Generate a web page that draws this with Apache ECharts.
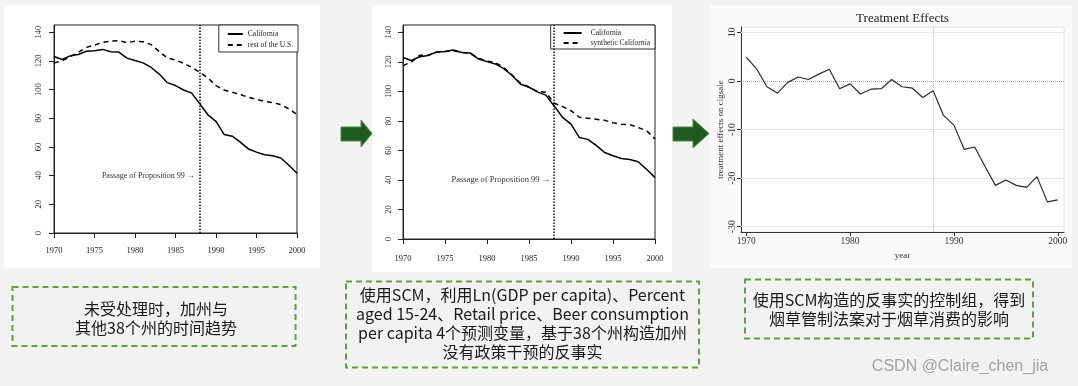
<!DOCTYPE html>
<html><head><meta charset="utf-8">
<script src="https://cdn.jsdelivr.net/npm/echarts@6/dist/echarts.min.js"></script>
<style>html,body{margin:0;padding:0;background:#f2f2f2}#c{width:1078px;height:386px}</style>
</head><body><div id="c"></div>
<script>
const years = [1970,1971,1972,1973,1974,1975,1976,1977,1978,1979,1980,1981,1982,1983,1984,1985,1986,1987,1988,1989,1990,1991,1992,1993,1994,1995,1996,1997,1998,1999,2000];
const california = [123.0,121.0,123.5,124.4,126.7,127.1,128.0,126.4,126.1,121.9,120.2,118.6,115.4,110.8,104.8,102.8,99.7,97.5,90.1,82.4,77.8,68.7,67.5,63.4,58.6,56.4,54.5,53.8,52.3,47.2,41.6];
const restOfUS = [118.5,120.1,122.9,125.9,129.4,131.0,132.9,133.8,134.0,132.7,133.6,133.4,131.3,126.4,122.0,120.6,118.3,115.5,112.0,108.1,102.7,99.7,98.1,96.5,94.6,93.2,91.8,90.9,89.5,86.5,82.6];
const syntheticCalifornia = [117.5,120.0,124.5,124.5,126.5,127.0,127.5,126.5,125.5,122.5,120.5,119.5,116.0,111.0,105.5,103.0,100.0,99.5,92.0,89.7,87.0,82.5,81.8,81.1,80.4,78.8,77.7,77.5,75.5,73.4,67.8];
const treatmentEffects = [4.9,2.5,-1.2,-2.5,-0.3,0.8,0.3,1.4,2.4,-1.6,-0.6,-2.7,-1.7,-1.6,0.3,-1.2,-1.5,-3.4,-2.0,-7.1,-9.1,-14.1,-13.6,-17.6,-21.5,-20.4,-21.5,-21.9,-19.7,-24.9,-24.5];
const salesTicks = [0,20,40,60,80,100,120,140];
const effectTicks = [-30,-20,-10,0,10];
const effectYearTicks = [1970,1980,1990,2000];
const treatmentYear = 1988;
const annotationValue = 40;
const annotationText = 'Passage of Proposition 99 \u2192';
const box1Text = '未受处理时，加州与\n其他38个州的时间趋势';
const box2Text = '使用SCM，利用Ln(GDP per capita)、Percent\naged 15-24、Retail price、Beer consumption\nper capita 4个预测变量，基于38个州构造加州\n没有政策干预的反事实';
const box3Text = '使用SCM构造的反事实的控制组，得到\n烟草管制法案对于烟草消费的影响';
const chart3Title = 'Treatment Effects';
const chart3YName = 'treatment effects on cigsale';
const chart3XName = 'year';
const watermark = 'CSDN @Claire_chen_jia';

const pairs = v => years.map((y, i) => [y, v[i]]);
const SERIF = 'Liberation Serif';
const CJK = '"Noto Sans CJK SC"';
const plain = v => String(v);

function rAxisX(idx, margin) {
  return {
    type: 'value', gridIndex: idx, min: 1970, max: 2000, interval: 5,
    axisLine: {show: true, onZero: false, lineStyle: {color: '#222', width: 1}},
    axisTick: {show: true, length: 5, lineStyle: {color: '#222'}},
    axisLabel: {color: '#222', fontFamily: SERIF, fontSize: 8.5, margin: margin, formatter: plain},
    splitLine: {show: false}
  };
}
function rAxisY(idx, margin) {
  return {
    type: 'value', gridIndex: idx, min: 0, max: 145,
    axisLine: {show: true, onZero: false, lineStyle: {color: '#222', width: 1}},
    axisTick: {show: true, length: 5, customValues: salesTicks, lineStyle: {color: '#222'}},
    axisLabel: {color: '#222', fontFamily: SERIF, fontSize: 8.5, rotate: 90, margin: margin, customValues: salesTicks, formatter: plain},
    splitLine: {show: false}
  };
}
function dividerAndNote(dist, fs) {
  return {
    markLine: {
      silent: true, symbol: ['none', 'none'], label: {show: false},
      lineStyle: {color: '#111', type: 'dotted', width: 1.5},
      data: [{xAxis: treatmentYear}]
    },
    markPoint: {
      silent: true, symbol: 'circle', symbolSize: 0,
      data: [{coord: [treatmentYear, annotationValue]}],
      label: {show: true, position: 'left', distance: dist, formatter: annotationText,
        color: '#333', fontFamily: SERIF, fontSize: fs}
    }
  };
}

const chart = echarts.init(document.getElementById('c'), null, {renderer: 'canvas'});
const option = {
  animation: false,
  backgroundColor: '#f2f2f2',
  grid: [
    {left: 54, top: 25, width: 243, height: 208, show: true, borderColor: '#222', borderWidth: 1, backgroundColor: '#fff'},
    {left: 403, top: 25, width: 252, height: 214, show: true, borderColor: '#222', borderWidth: 1, backgroundColor: '#fff'},
    {left: 741, top: 27, width: 323, height: 205, show: true, borderColor: '#e2e2e2', borderWidth: 1, backgroundColor: '#fff'}
  ],
  xAxis: [
    rAxisX(0, 13),
    rAxisX(1, 15),
    {
      type: 'value', gridIndex: 2, min: 1969.5, max: 2000.6,
      name: chart3XName, nameLocation: 'middle', nameGap: 19,
      nameTextStyle: {color: '#333', fontFamily: SERIF, fontSize: 9},
      axisLine: {show: true, onZero: false, lineStyle: {color: '#333', width: 1}},
      axisTick: {show: true, length: 4, customValues: effectYearTicks, lineStyle: {color: '#333'}},
      axisLabel: {color: '#333', fontFamily: SERIF, fontSize: 9.5, margin: 4, customValues: effectYearTicks, formatter: plain},
      splitLine: {show: false}
    }
  ],
  yAxis: [
    rAxisY(0, 11),
    rAxisY(1, 10),
    {
      type: 'value', gridIndex: 2, min: -31.1, max: 11.1,
      name: chart3YName, nameLocation: 'middle', nameGap: 16, nameRotate: 90,
      nameTextStyle: {color: '#333', fontFamily: SERIF, fontSize: 9},
      axisLine: {show: true, onZero: false, lineStyle: {color: '#333', width: 1}},
      axisTick: {show: true, length: 4, customValues: effectTicks, lineStyle: {color: '#333'}},
      axisLabel: {color: '#333', fontFamily: SERIF, fontSize: 9.5, rotate: 90, margin: 4, customValues: effectTicks, formatter: plain},
      splitLine: {show: false}
    }
  ],
  legend: [
    {
      data: ['California', 'rest of the U.S.'], orient: 'vertical', right: 780, top: 25,
      padding: [5, 5, 3, 8], itemWidth: 15, itemHeight: 8, itemGap: 3,
      itemStyle: {opacity: 0},
      borderColor: '#333', borderWidth: 1, borderRadius: 0, backgroundColor: '#fff',
      textStyle: {color: '#222', fontFamily: SERIF, fontSize: 7.5}
    },
    {
      data: ['California', 'synthetic California'], orient: 'vertical', right: 423, top: 25,
      padding: [4, 5, 2, 12], itemWidth: 18, itemHeight: 7, itemGap: 2,
      itemStyle: {opacity: 0},
      borderColor: '#333', borderWidth: 1, borderRadius: 0, backgroundColor: '#fff',
      textStyle: {color: '#222', fontFamily: SERIF, fontSize: 7.5, padding: [0, 0, 0, 4]}
    }
  ],
  series: [
    Object.assign({
      name: 'California', type: 'line', xAxisIndex: 0, yAxisIndex: 0, data: pairs(california),
      symbol: 'none', lineStyle: {color: '#000', width: 1.5}, itemStyle: {color: '#000'}
    }, dividerAndNote(5, 8)),
    {
      name: 'rest of the U.S.', type: 'line', xAxisIndex: 0, yAxisIndex: 0, data: pairs(restOfUS),
      symbol: 'none', lineStyle: {color: '#000', width: 1.5, type: [5, 4]}, itemStyle: {color: '#000'}
    },
    Object.assign({
      name: 'California', type: 'line', xAxisIndex: 1, yAxisIndex: 1, data: pairs(california),
      symbol: 'none', lineStyle: {color: '#000', width: 1.5}, itemStyle: {color: '#000'}
    }, dividerAndNote(4, 8.5)),
    {
      name: 'synthetic California', type: 'line', xAxisIndex: 1, yAxisIndex: 1, data: pairs(syntheticCalifornia),
      symbol: 'none', lineStyle: {color: '#000', width: 1.5, type: [5, 4]}, itemStyle: {color: '#000'}
    },
    {
      name: 'treatment effects', type: 'line', xAxisIndex: 2, yAxisIndex: 2, data: pairs(treatmentEffects),
      symbol: 'none', lineStyle: {color: '#2b2b2b', width: 1.2}, itemStyle: {color: '#2b2b2b'},
      markLine: {
        silent: true, z: 1, symbol: ['none', 'none'], label: {show: false},
        data: effectTicks.filter(v => v !== 0).map(v => ({yAxis: v, lineStyle: {color: '#e8e8e8', type: 'solid', width: 1}}))
          .concat([
            {yAxis: 0, lineStyle: {color: '#a8a8a8', type: 'dotted', width: 1}},
            {xAxis: treatmentYear, lineStyle: {color: '#bdbdbd', type: 'dotted', width: 1}}
          ])
      }
    }
  ],
  graphic: {elements: [
    {type: 'rect', z: -10, shape: {x: 4, y: 5, width: 316, height: 263}, style: {fill: '#ffffff'}},
    {type: 'rect', z: -10, shape: {x: 372, y: 5, width: 300, height: 267}, style: {fill: '#ffffff'}},
    {type: 'rect', z: -10, shape: {x: 710, y: 5, width: 362, height: 263}, style: {fill: '#fafafa'}},
    {type: 'polygon', z: -5, shape: {points: [[341,127],[361,127],[361,120],[372,133.5],[361,147],[361,141],[341,141]]},
      style: {fill: '#1e5b20', stroke: '#4f8c3f', lineWidth: 1}},
    {type: 'polygon', z: -5, shape: {points: [[673,127],[693,127],[693,119],[709,133.5],[693,148],[693,141],[673,141]]},
      style: {fill: '#1e5b20', stroke: '#4f8c3f', lineWidth: 1}},
    {type: 'text', x: 902.5, y: 18.5, style: {text: chart3Title, font: '13px "Liberation Serif"', fill: '#222', align: 'center', verticalAlign: 'middle'}},
    {type: 'rect', shape: {x: 12.5, y: 287, width: 283, height: 59}, style: {fill: 'none', stroke: '#5fa33a', lineWidth: 2, lineDash: [6, 4]}},
    {type: 'rect', shape: {x: 346, y: 281.5, width: 353, height: 86}, style: {fill: 'none', stroke: '#5fa33a', lineWidth: 2, lineDash: [6, 4]}},
    {type: 'rect', shape: {x: 745, y: 279.5, width: 288, height: 59}, style: {fill: 'none', stroke: '#5fa33a', lineWidth: 2, lineDash: [6, 4]}},
    {type: 'text', x: 156, y: 318.5, style: {text: box1Text, font: '16px ' + CJK, fill: '#1a1a1a', align: 'center', verticalAlign: 'middle', lineHeight: 19}},
    {type: 'text', x: 522.5, y: 323.5, style: {text: box2Text, font: '16px ' + CJK, fill: '#1a1a1a', align: 'center', verticalAlign: 'middle', lineHeight: 19}},
    {type: 'text', x: 889, y: 309.5, style: {text: box3Text, font: '16px ' + CJK, fill: '#1a1a1a', align: 'center', verticalAlign: 'middle', lineHeight: 19}},
    {type: 'text', x: 960, y: 367, style: {text: watermark, font: '16px "Liberation Sans"', fill: '#a3a3a3', align: 'center', verticalAlign: 'middle'}}
  ]}
};
chart.setOption(option);
</script>
</body></html>
